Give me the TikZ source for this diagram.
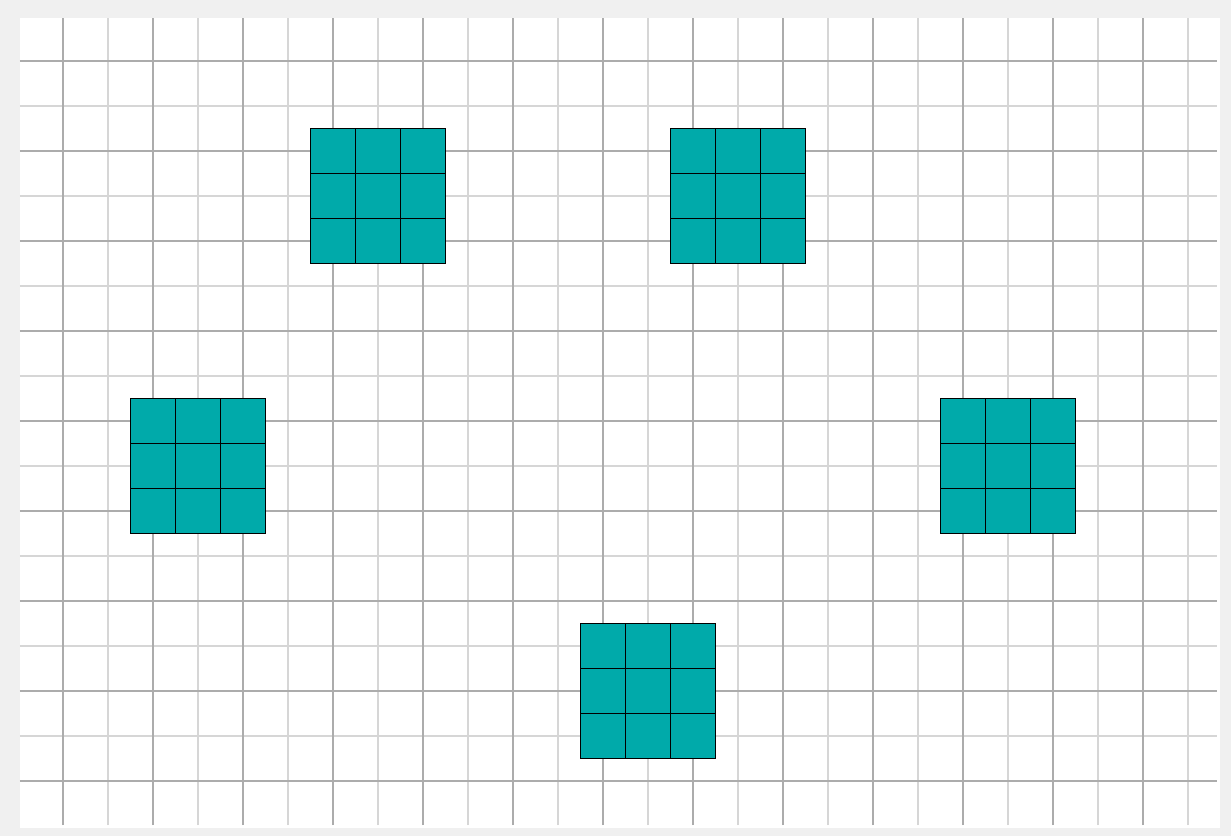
\documentclass[tikz,border=0pt]{standalone}
\usetikzlibrary{positioning}
\definecolor{pagegray}{RGB}{240,240,240}
\definecolor{majorgray}{RGB}{172,172,172}
\definecolor{minorgray}{RGB}{214,214,214}
\definecolor{tealfill}{RGB}{0,170,170}
\tikzset{
  majorline/.style={draw=majorgray,line width=0.6pt},
  minorline/.style={draw=minorgray,line width=0.6pt},
  cellbox/.style={fill=tealfill,draw=black,line width=0.6pt}
}
\begin{document}
\begin{tikzpicture}[x=0.5cm,y=0.5cm]
\fill[pagegray] (-0.4,-0.222) rectangle (26.956,18.356);
\useasboundingbox (-0.4,-0.222) rectangle (26.956,18.356);
\fill[white] (0.044,-0.044) rectangle (26.711,17.956);
% grid
\foreach \i in {2,4,...,26} \draw[minorline] (\i,0.022) -- (\i,17.956);
\foreach \j in {2,4,...,16} \draw[minorline] (0.044,\j) -- (26.644,\j);
\foreach \i in {1,3,...,25} \draw[majorline] (\i,0.022) -- (\i,17.956);
\foreach \j in {1,3,...,17} \draw[majorline] (0.044,\j) -- (26.644,\j);
% 3x3 blocks
\foreach \x/\y in {6.5/12.5,14.5/12.5,2.5/6.5,20.5/6.5,12.5/1.5}{
  \foreach \a in {0,1,2}{
    \foreach \b in {0,1,2}{
      \draw[cellbox] (\x+\a,\y+\b) rectangle +(1,1);
    }
  }
}
\end{tikzpicture}
\end{document}
